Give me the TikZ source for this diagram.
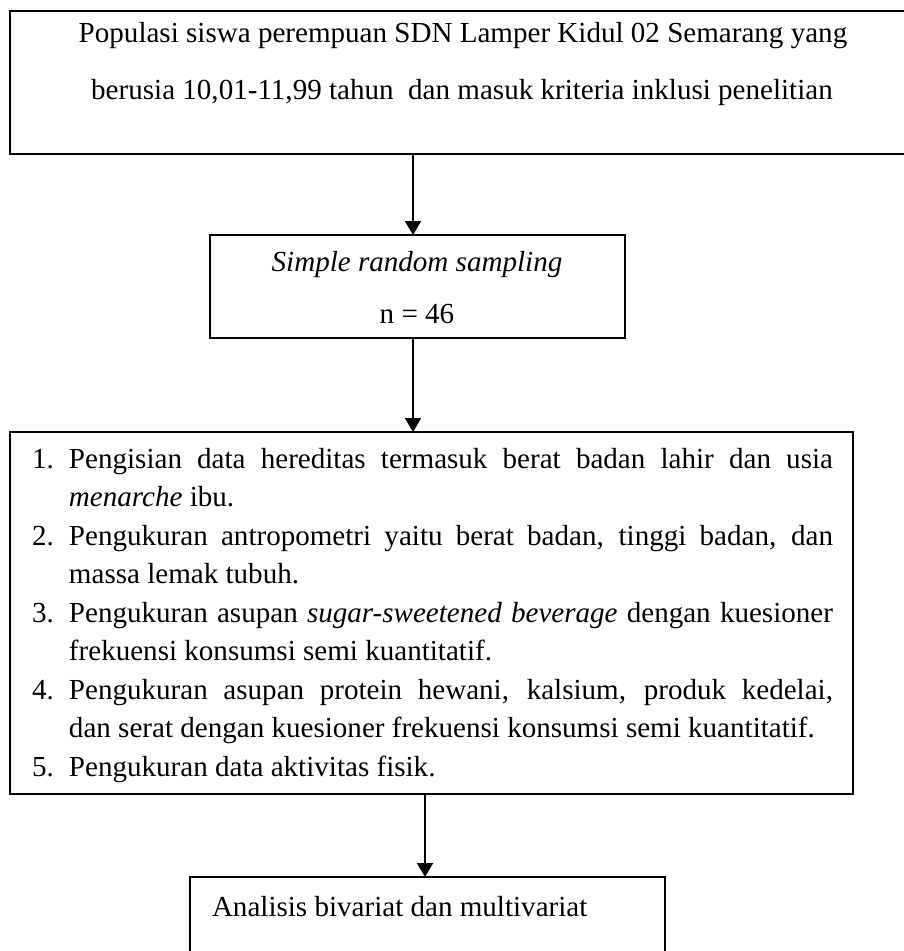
\documentclass[tikz,border=0pt]{standalone}
\usepackage{fontspec}
\setmainfont{Liberation Serif}
\usetikzlibrary{arrows.meta}
\begin{document}
\begin{tikzpicture}[x=0.75pt,y=-0.75pt,
  boxnode/.style={draw=black,line width=1.5pt,rectangle,inner sep=0pt,outer sep=0pt},
  txt/.style={inner sep=0pt,outer sep=0pt,font=\fontsize{21.8pt}{26pt}\selectfont},
  arr/.style={line width=1.5pt,-{Triangle[length=10.5pt,width=12pt]}}]
\useasboundingbox (0,0) rectangle (904,951);
\clip (0,0) rectangle (904,951);
% boxes
\node[boxnode,minimum width=682.5pt,minimum height=107.25pt] (b1) at (465,82.5) {};
\node[boxnode,minimum width=311.25pt,minimum height=77.25pt] (b2) at (417.5,286.5) {};
\node[boxnode,minimum width=632.25pt,minimum height=271.5pt] (b3) at (431.5,613) {};
\node[boxnode,minimum width=356.25pt,minimum height=92.25pt] (b4) at (427.5,938.5) {};
% arrow columns
\coordinate (c1) at (413,0);
\coordinate (c3) at (425,0);
\draw[arr] (b1.south -| c1) -- (b2.north -| c1);
\draw[arr] (b2.south -| c1) -- (b3.north -| c1);
\draw[arr] (b3.south -| c3) -- (b4.north -| c3);
% box 1 text
\node[txt,anchor=base] (t1a) at (463,42) {Populasi siswa perempuan SDN Lamper Kidul 02 Semarang yang};
\node[txt,anchor=base] (t1b) at (462,99) {berusia 10,01-11,99 tahun\ \ dan masuk kriteria inklusi penelitian};
% box 2 text
\node[txt,anchor=base] (t2a) at (417,271) {\textit{Simple random sampling}};
\node[txt,anchor=base] (t2b) at (417,323) {n = 46};
% box 3 text
\node[txt,anchor=base west] (n1) at (32,468) {1.};
\node[txt,anchor=base west] (l1) at (69,468) {\makebox[573pt][s]{Pengisian data hereditas termasuk berat badan lahir dan usia}};
\node[txt,anchor=base west] (l2) at (69,506.5) {\textit{menarche} ibu.};
\node[txt,anchor=base west] (n2) at (32,545) {2.};
\node[txt,anchor=base west] (l3) at (69,545) {\makebox[573pt][s]{Pengukuran antropometri yaitu berat badan, tinggi badan, dan}};
\node[txt,anchor=base west] (l4) at (69,583.5) {massa lemak tubuh.};
\node[txt,anchor=base west] (n3) at (32,622) {3.};
\node[txt,anchor=base west] (l5) at (69,622) {\makebox[573pt][s]{Pengukuran asupan \textit{sugar-sweetened beverage} dengan kuesioner}};
\node[txt,anchor=base west] (l6) at (69,660.5) {frekuensi konsumsi semi kuantitatif.};
\node[txt,anchor=base west] (n4) at (32,699) {4.};
\node[txt,anchor=base west] (l7) at (69,699) {\makebox[573pt][s]{Pengukuran asupan protein hewani, kalsium, produk kedelai,}};
\node[txt,anchor=base west] (l8) at (69,737.5) {dan serat dengan kuesioner frekuensi konsumsi semi kuantitatif.};
\node[txt,anchor=base west] (n5) at (32,776) {5.};
\node[txt,anchor=base west] (l9) at (69,776) {Pengukuran data aktivitas fisik.};
% box 4 text
\node[txt,anchor=base west] (t4) at (212,916) {Analisis bivariat dan multivariat};
\end{tikzpicture}
\end{document}
